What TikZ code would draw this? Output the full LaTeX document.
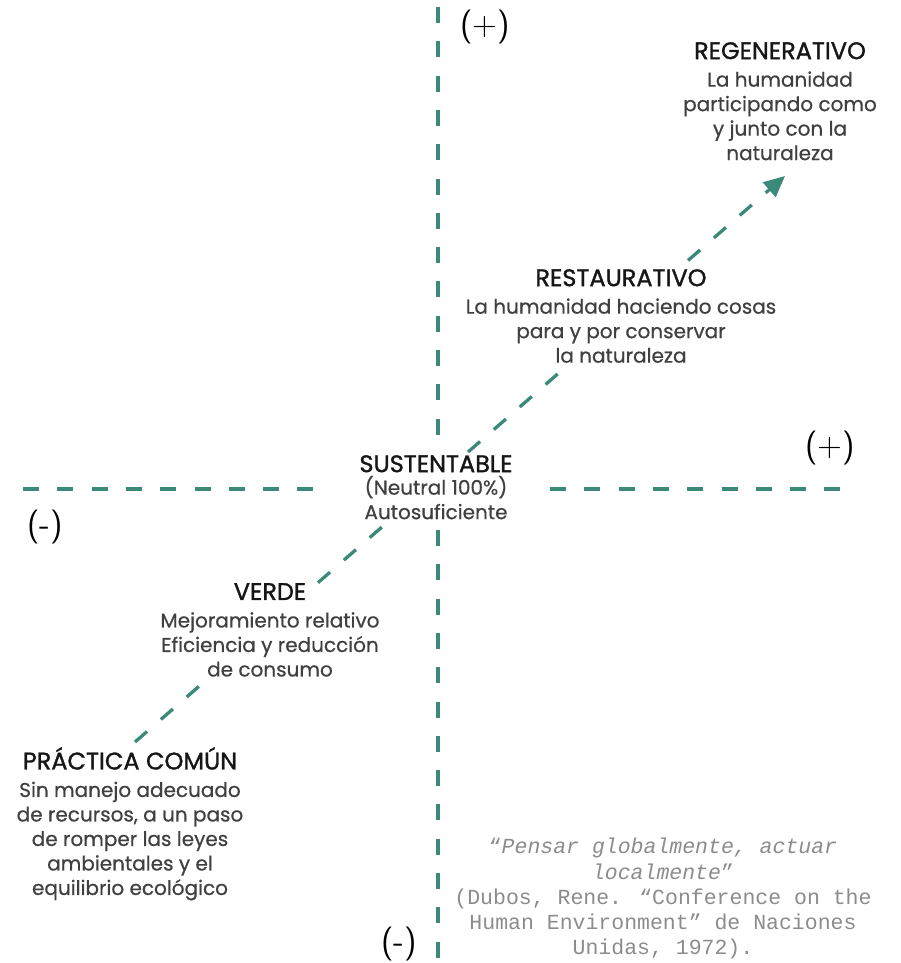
\documentclass[tikz,border=0pt]{standalone}
\usepackage{fontspec}
\usetikzlibrary{arrows.meta,calc}
\newfontfamily\labelfont[FakeBold=0.6]{Poppins}
\newfontfamily\headfont[FakeBold=1.3]{Poppins}
\newfontfamily\quotefont{Liberation Mono}
\definecolor{axisteal}{RGB}{59,138,121}
\definecolor{headink}{RGB}{22,22,22}
\definecolor{bodyink}{RGB}{64,64,64}
\definecolor{quoteink}{RGB}{140,140,140}
\newcommand{\stagehead}[1]{{\color{headink}\headfont\fontsize{24}{25}\selectfont #1}}
\begin{document}
\begin{tikzpicture}[x=1pt,y=-1pt,
  axisline/.style={draw=axisteal, line width=3.3pt, dash pattern=on 16pt off 18.3pt},
  diagline/.style={draw=axisteal, line width=3.3pt, dash pattern=on 16pt off 18.3pt},
  stage/.style={align=center, inner sep=0pt, anchor=north, text=bodyink,
    font=\labelfont\fontsize{20}{24.5}\selectfont},
  sign/.style={inner sep=0pt, font=\sffamily\fontsize{34}{34}\selectfont},
  quotetext/.style={align=center, inner sep=0pt, anchor=north, text=quoteink,
    font=\quotefont\fontsize{21.5}{25.3}\selectfont}]
\useasboundingbox (0,0) rectangle (900,963);

% axes, split around the centre label
\coordinate (vt0) at (438,7);   \coordinate (vt1) at (438,444);
\coordinate (vb0) at (438,530); \coordinate (vb1) at (438,963);
\coordinate (hl0) at (23,489);  \coordinate (hl1) at (313,489);
\coordinate (hr0) at (550,489); \coordinate (hr1) at (845,489);
\draw[axisline] (vt0) -- (vt1);
\draw[axisline] (vb0) -- (vb1);
\draw[axisline] (hl0) -- (hl1);
\draw[axisline] (hr0) -- (hr1);

% axis signs
\node[sign] (topplus)   at (485,27)  {(+)};
\node[sign] (rightplus) at (830,448) {(+)};
\node[sign] (leftminus) at (45,527)  {(-)};
\node[sign] (botminus)  at (399,944) {(-)};

% stages
\node[stage] (regen) at (780,42)
  {\stagehead{REGENERATIVO}\\[3pt] La humanidad\\ participando como\\ y junto con la\\ naturaleza};
\node[stage] (resta) at (621,269)
  {\stagehead{RESTAURATIVO}\\[3pt] La humanidad haciendo cosas\\ para y por conservar\\ la naturaleza};
\node[stage] (sust) at (436,455)
  {\stagehead{SUSTENTABLE}\\[-2pt] (Neutral 100\%)\\ Autosuficiente};
\node[stage] (verde) at (270,583)
  {\stagehead{VERDE}\\[3pt] Mejoramiento relativo\\ Eficiencia y reducción\\ de consumo};
\node[stage] (pract) at (130,747)
  {\stagehead{PRÁCTICA COMÚN}\\[3pt] Sin manejo adecuado\\ de recursos, a un paso\\ de romper las leyes\\ ambientales y el\\ equilibrio ecológico};

% path of progression, broken around the labels
\coordinate (ds) at (135,742);
\coordinate (de) at (785,176);
\coordinate (d1) at ($(ds)!0.103!(de)$);
\coordinate (d2) at ($(ds)!0.2815!(de)$);
\coordinate (d3) at ($(ds)!0.3815!(de)$);
\coordinate (d4) at ($(ds)!0.5123!(de)$);
\coordinate (d5) at ($(ds)!0.6538!(de)$);
\coordinate (d6) at ($(ds)!0.8508!(de)$);
\draw[diagline] (ds) -- (d1);
\draw[diagline] (d2) -- (d3);
\draw[diagline] (d4) -- (d5);
\draw[diagline, -{Triangle[length=21pt,width=19pt]}] (d6) -- (de);

% quotation
\node[quotetext] (quote) at (663,838)
  {“\textit{Pensar globalmente, actuar}\\ \textit{localmente}”\\ (Dubos, Rene. “Conference on the\\ Human Environment” de Naciones\\ Unidas, 1972).};
\end{tikzpicture}
\end{document}
